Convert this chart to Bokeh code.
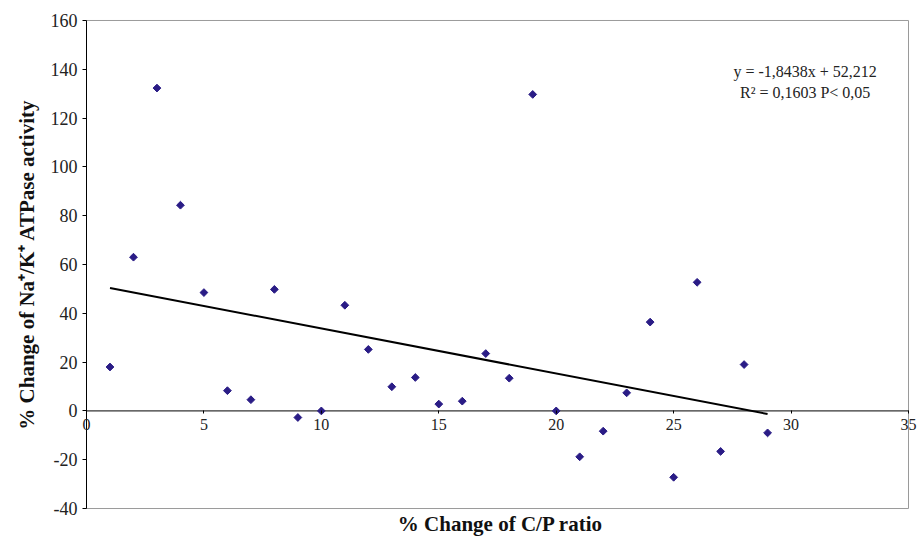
import math
from bokeh.plotting import figure
from bokeh.models import Range1d, FixedTicker, Label, LinearAxis
from bokeh.embed import file_html
from bokeh.resources import INLINE

# ---- data ----
cp_change = [1, 2, 3, 4, 5, 6, 7, 8, 9, 10, 11, 12, 13, 14, 15, 16, 17, 18, 19, 20,
             21, 22, 23, 24, 25, 26, 27, 28, 29]
atpase_change = [18, 63, 132.3, 84.3, 48.5, 8.3, 4.6, 49.8, -2.7, 0, 43.3, 25.2, 9.9, 13.7,
                 2.8, 4.0, 23.5, 13.4, 129.7, 0, -18.8, -8.3, 7.4, 36.4, -27.2, 52.7,
                 -16.6, 19.0, -9.0]
slope = -1.8438
intercept = 52.212
x_ticks = [0, 5, 10, 15, 20, 25, 30, 35]
x_tick_labels = ["0", "5", "10", "15", "20", "25", "30", "35"]
y_ticks = [-40, -20, 0, 20, 40, 60, 80, 100, 120, 140, 160]
y_tick_labels = ["-40", "-20", "0", "20", "40", "60", "80", "100", "120", "140", "160"]
eq_text = "y = -1,8438x + 52,212"
r2_text = "R\u00b2 = 0,1603 P< 0,05"

FONT = "Liberation Serif"
BORDER = "#9a9a9a"

# layout (pixels)
W, H = 921, 538
LEFT, RIGHT, TOP, BOTTOM = 80, 1, 19, 26
PAD_L, PAD_R = 6, 12           # frame room kept beside the 0..35 box for tick labels
PAD_Y_UNITS = 0.4

xmin, xmax = x_ticks[0], x_ticks[-1]
ymin, ymax = y_ticks[0], y_ticks[-1]
frame_w = W - LEFT - RIGHT
px_per_unit = (frame_w - PAD_L - PAD_R) / (xmax - xmin)

p = figure(width=W, height=H, output_backend="svg", toolbar_location=None,
           x_range=Range1d(xmin - PAD_L / px_per_unit, xmax + PAD_R / px_per_unit),
           y_range=Range1d(ymin - PAD_Y_UNITS, ymax + PAD_Y_UNITS),
           min_border_left=LEFT, min_border_right=RIGHT,
           min_border_top=TOP, min_border_bottom=BOTTOM)
p.grid.visible = False
p.background_fill_color = "white"
p.outline_line_color = None

# y axis (ticks drawn just inside the frame, at x = 0)
ya = p.yaxis[0]
ya.ticker = FixedTicker(ticks=y_ticks)
ya.major_label_overrides = {t: s for t, s in zip(y_ticks, y_tick_labels)}
ya.minor_tick_line_color = None
ya.minor_tick_in = 0
ya.minor_tick_out = 0
ya.major_tick_in = PAD_L
ya.major_tick_out = -PAD_L + 4
ya.major_label_standoff = 3
ya.axis_line_color = None
ya.major_tick_line_color = "black"
ya.major_label_text_font = FONT
ya.major_label_text_font_size = "18px"
ya.major_label_text_color = "#222222"
ya.axis_label = "% Change of Na\u207a/K\u207a ATPase activity"
ya.axis_label_text_font = FONT
ya.axis_label_text_font_style = "bold"
ya.axis_label_text_font_size = "21px"
ya.axis_label_text_color = "#111111"
ya.axis_label_standoff = 9

# bottom axis: only the title
xa = p.xaxis[0]
xa.ticker = FixedTicker(ticks=[])
xa.axis_line_color = None
xa.major_tick_line_color = None
xa.minor_tick_line_color = None
xa.major_label_text_font_size = "0px"
xa.major_label_standoff = 0
xa.axis_label = "% Change of C/P ratio"
xa.axis_label_text_font = FONT
xa.axis_label_text_font_style = "bold"
xa.axis_label_text_font_size = "21px"
xa.axis_label_text_color = "#111111"
xa.axis_label_standoff = 2

# x axis ticks/labels crossing at y = 0
zero_axis = LinearAxis(fixed_location=0,
                       ticker=FixedTicker(ticks=x_ticks),
                       major_label_overrides={t: s for t, s in zip(x_ticks, x_tick_labels)},
                       axis_line_color=None, major_tick_line_color="black",
                       minor_tick_line_color=None, major_tick_in=0, major_tick_out=3,
                       major_label_standoff=5, major_label_text_font=FONT,
                       major_label_text_font_size="16px", major_label_text_color="#222222")
p.add_layout(zero_axis, "below")

# plot box: gray top/right/bottom, black y axis line and zero line
p.segment(x0=[xmin, xmax, xmin], y0=[ymax, ymin, ymin],
          x1=[xmax, xmax, xmax], y1=[ymax, ymax, ymin],
          line_color=BORDER, line_width=1)
p.segment(x0=[xmin, xmin], y0=[ymin, 0], x1=[xmin, xmax], y1=[ymax, 0],
          line_color="black", line_width=1)

# trend line
x0, x1 = min(cp_change), max(cp_change)
p.line(x=[x0, x1], y=[slope * x0 + intercept, slope * x1 + intercept],
       line_color="black", line_width=2)

# points
p.scatter(x=cp_change, y=atpase_change, marker="square", angle=math.pi / 4,
          size=5.5, fill_color="#2a1c86", line_color="#2a1c86")

# equation annotation
p.add_layout(Label(x=30.6, y=139, text=eq_text, text_font=FONT, text_font_size="16px",
                   text_align="center", text_baseline="middle", text_color="#222222"))
p.add_layout(Label(x=30.6, y=130.3, text=r2_text, text_font=FONT, text_font_size="16px",
                   text_align="center", text_baseline="middle", text_color="#222222"))

open("out.html", "w").write(file_html(p, INLINE))
